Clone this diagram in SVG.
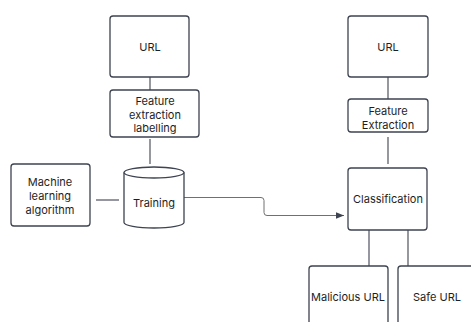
<svg xmlns="http://www.w3.org/2000/svg" width="471" height="322" viewBox="0 0 471 322">
  <defs>
    <style>
      .box { fill: #ffffff; stroke: #3d4350; stroke-width: 1.3; }
      .link { fill: none; stroke: #3d4350; stroke-width: 1.1; }
      .flow { fill: none; stroke: #707070; stroke-width: 1; }
      .lbl { font-family: Inter, "Noto Sans", sans-serif; font-size: 11px; fill: #1e1e1e; text-anchor: middle; dominant-baseline: central; }
    </style>
    <marker id="arrow" viewBox="0 0 10 10" refX="10" refY="5" markerWidth="8" markerHeight="8" markerUnits="userSpaceOnUse" orient="auto">
      <path d="M0,1 L10,5 L0,9 Z" fill="#3d4350"/>
    </marker>
  </defs>
  <rect width="471" height="322" fill="#ffffff"/>

  <!-- connectors -->
  <g id="connectors">
    <line class="link" x1="150" y1="77" x2="150" y2="90"/>
    <line class="link" x1="150" y1="139" x2="150" y2="164"/>
    <line class="link" x1="96" y1="200" x2="119" y2="200"/>
    <path class="flow" d="M184,197.5 H261 Q264,197.5 264,200.5 V212.5 Q264,215.5 267,215.5 H344" marker-end="url(#arrow)"/>
    <line class="link" x1="388" y1="77" x2="388" y2="99"/>
    <line class="link" x1="388" y1="137" x2="388" y2="164"/>
    <line class="link" x1="369" y1="230" x2="369" y2="266"/>
    <line class="link" x1="408" y1="230" x2="408" y2="266"/>
  </g>

  <!-- training pipeline -->
  <g id="url-train">
    <rect class="box" x="110" y="16" width="79" height="61" rx="3"/>
    <text class="lbl" x="150" y="47">URL</text>
  </g>
  <g id="feature-labelling">
    <rect class="box" x="110" y="90" width="89" height="47" rx="3"/>
    <text class="lbl" x="155" y="101">Feature</text>
    <text class="lbl" x="155" y="115">extraction</text>
    <text class="lbl" x="155" y="128">labelling</text>
  </g>
  <g id="ml-algorithm">
    <rect class="box" x="11" y="164" width="79" height="62" rx="3"/>
    <text class="lbl" x="50" y="182">Machine</text>
    <text class="lbl" x="50" y="196">learning</text>
    <text class="lbl" x="50" y="210">algorithm</text>
  </g>
  <g id="training">
    <path class="box" d="M124,172.5 A30,5.5 0 0 1 184,172.5 V222.5 A30,5.5 0 0 1 124,222.5 Z"/>
    <path class="box" style="fill:none" d="M124,172.5 A30,5.5 0 0 0 184,172.5"/>
    <text class="lbl" x="154" y="203">Training</text>
  </g>

  <!-- detection pipeline -->
  <g id="url-detect">
    <rect class="box" x="348" y="16" width="80" height="61" rx="3"/>
    <text class="lbl" x="388" y="47">URL</text>
  </g>
  <g id="feature-extraction">
    <rect class="box" x="348" y="99" width="80" height="33" rx="3"/>
    <text class="lbl" x="388" y="111">Feature</text>
    <text class="lbl" x="388" y="125">Extraction</text>
  </g>
  <g id="classification">
    <rect class="box" x="348" y="168" width="79" height="62" rx="3"/>
    <text class="lbl" x="388" y="199">Classification</text>
  </g>
  <g id="malicious-url">
    <rect class="box" x="309" y="266" width="79" height="70" rx="3"/>
    <text class="lbl" x="348" y="297">Malicious URL</text>
  </g>
  <g id="safe-url">
    <rect class="box" x="398" y="266" width="79" height="70" rx="3"/>
    <text class="lbl" x="437" y="297">Safe URL</text>
  </g>
</svg>
